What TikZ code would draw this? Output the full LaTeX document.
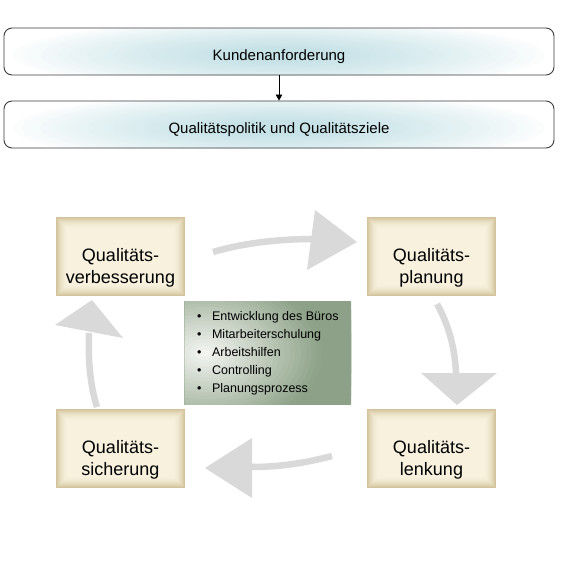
\documentclass[tikz,border=0pt]{standalone}
\usepackage{fontspec}
\setmainfont{Liberation Sans}
\usetikzlibrary{arrows.meta}
\definecolor{beigeD}{RGB}{210,195,155}
\definecolor{beigeL}{RGB}{247,241,222}
\definecolor{arrowg}{RGB}{217,217,217}
\definecolor{glowc}{RGB}{198,226,231}
\definecolor{sageD}{RGB}{140,161,135}
\definecolor{sageL}{RGB}{246,247,244}
\definecolor{frame}{RGB}{60,60,60}
\newcommand\bevelbox[1]{%
  \foreach \i in {0,...,12}{%
    \pgfmathtruncatemacro\p{100*(1-(1-\i/12)^2)}%
    \fill[beigeL!\p!beigeD] ([shift={(\i,\i)}]#1.north west) rectangle ([shift={(-\i,-\i)}]#1.south east);}}
\newcommand\glowat[1]{%
  \foreach \i in {0,...,24}{%
    \pgfmathsetmacro\rx{275*(1-\i/30)}%
    \pgfmathsetmacro\ry{36*(1-\i/30)}%
    \pgfmathtruncatemacro\p{100*(\i/24)^0.8}%
    \fill[glowc!\p!white] (#1) ellipse [x radius=\rx pt, y radius=\ry pt];}}
\tikzset{
  topbox/.style={draw=frame, line width=0.9pt, rounded corners=8pt, minimum width=550pt, minimum height=47pt, inner sep=0pt},
  toptext/.style={inner sep=0pt, font=\fontsize{15}{18}\selectfont},
  qbox/.style={minimum width=129pt, minimum height=79pt, inner sep=0pt, outer sep=0pt},
  qlabel/.style={align=center, inner sep=0pt, font=\fontsize{18}{21.5}\selectfont},
  shaft/.style={draw=arrowg, line width=6.5pt},
  ahead/.style={fill=arrowg}
}
\begin{document}
\begin{tikzpicture}[x=1pt,y=-1pt]
\useasboundingbox (0,0) rectangle (563,562);
% top boxes glow
\coordinate (kc) at (279,55);
\coordinate (zc) at (279,128);
\begin{scope}
  \clip[rounded corners=8pt] (4,28) rectangle (554,75);
  \glowat{kc}
\end{scope}
\begin{scope}
  \clip[rounded corners=8pt] (4,101) rectangle (554,148);
  \glowat{zc}
\end{scope}
\node[topbox] (kunde) at (279,51.5) {};
\node[topbox] (ziele) at (279,124.5) {};
\node[toptext] (kundeT) at (279,57) {Kundenanforderung};
\node[toptext] (zieleT) at (279,130) {Qualitätspolitik und Qualitätsziele};
\draw[line width=0.8pt, -{Triangle[length=6pt,width=6.5pt]}] (kunde.south) -- (ziele.north);

% quality boxes
\node[qbox] (verb) at (120.5,256.5) {};
\node[qbox] (plan) at (431.5,256.5) {};
\node[qbox] (sich) at (120.5,448.5) {};
\node[qbox] (lenk) at (431.5,448.5) {};
\bevelbox{verb}
\bevelbox{plan}
\bevelbox{sich}
\bevelbox{lenk}
\node[qlabel] (verbT) at (120.5,268) {Qualitäts-\\verbesserung};
\node[qlabel] (planT) at (431.5,268) {Qualitäts-\\planung};
\node[qlabel] (sichT) at (120.5,460) {Qualitäts-\\sicherung};
\node[qlabel] (lenkT) at (431.5,460) {Qualitäts-\\lenkung};

% center box
\node[minimum width=166pt, minimum height=102pt, inner sep=0pt] (mid) at (268,353) {};
\begin{scope}
  \clip (mid.north west) rectangle (mid.south east);
  \foreach \j in {0,...,30}{%
    \pgfmathsetmacro\ry{110*(1-\j/31)}%
    \pgfmathtruncatemacro\p{min(100,100*\ry/80)}%
    \fill[sageD!\p!sageL] (205,353) ellipse [x radius=1.5*\ry pt, y radius=\ry pt];}
\end{scope}
\node[anchor=west, align=left, inner sep=0pt, font=\fontsize{12.5}{18}\selectfont] (list) at (197,353)
 {\textbullet\hspace{10.5pt}Entwicklung des Büros\\
  \textbullet\hspace{10.5pt}Mitarbeiterschulung\\
  \textbullet\hspace{10.5pt}Arbeitshilfen\\
  \textbullet\hspace{10.5pt}Controlling\\
  \textbullet\hspace{10.5pt}Planungsprozess};

% cycle arrows
\draw[shaft] (213,252) .. controls (240,244) and (275,239) .. (314,239);
\fill[ahead] (315,210) -- (357,242) -- (307,270) -- cycle;
\draw[shaft] (437,304) .. controls (447,322) and (455,345) .. (456,374);
\fill[ahead] (421,373) -- (497,373) -- (457,405) -- cycle;
\draw[shaft] (332,456) .. controls (305,463) and (280,467) .. (251,467);
\fill[ahead] (252,438) -- (252,498) -- (205,468) -- cycle;
\draw[shaft] (97,407) .. controls (90,385) and (88,360) .. (89,333);
\fill[ahead] (55,325) -- (123,338) -- (92,300) -- cycle;
\end{tikzpicture}
\end{document}
